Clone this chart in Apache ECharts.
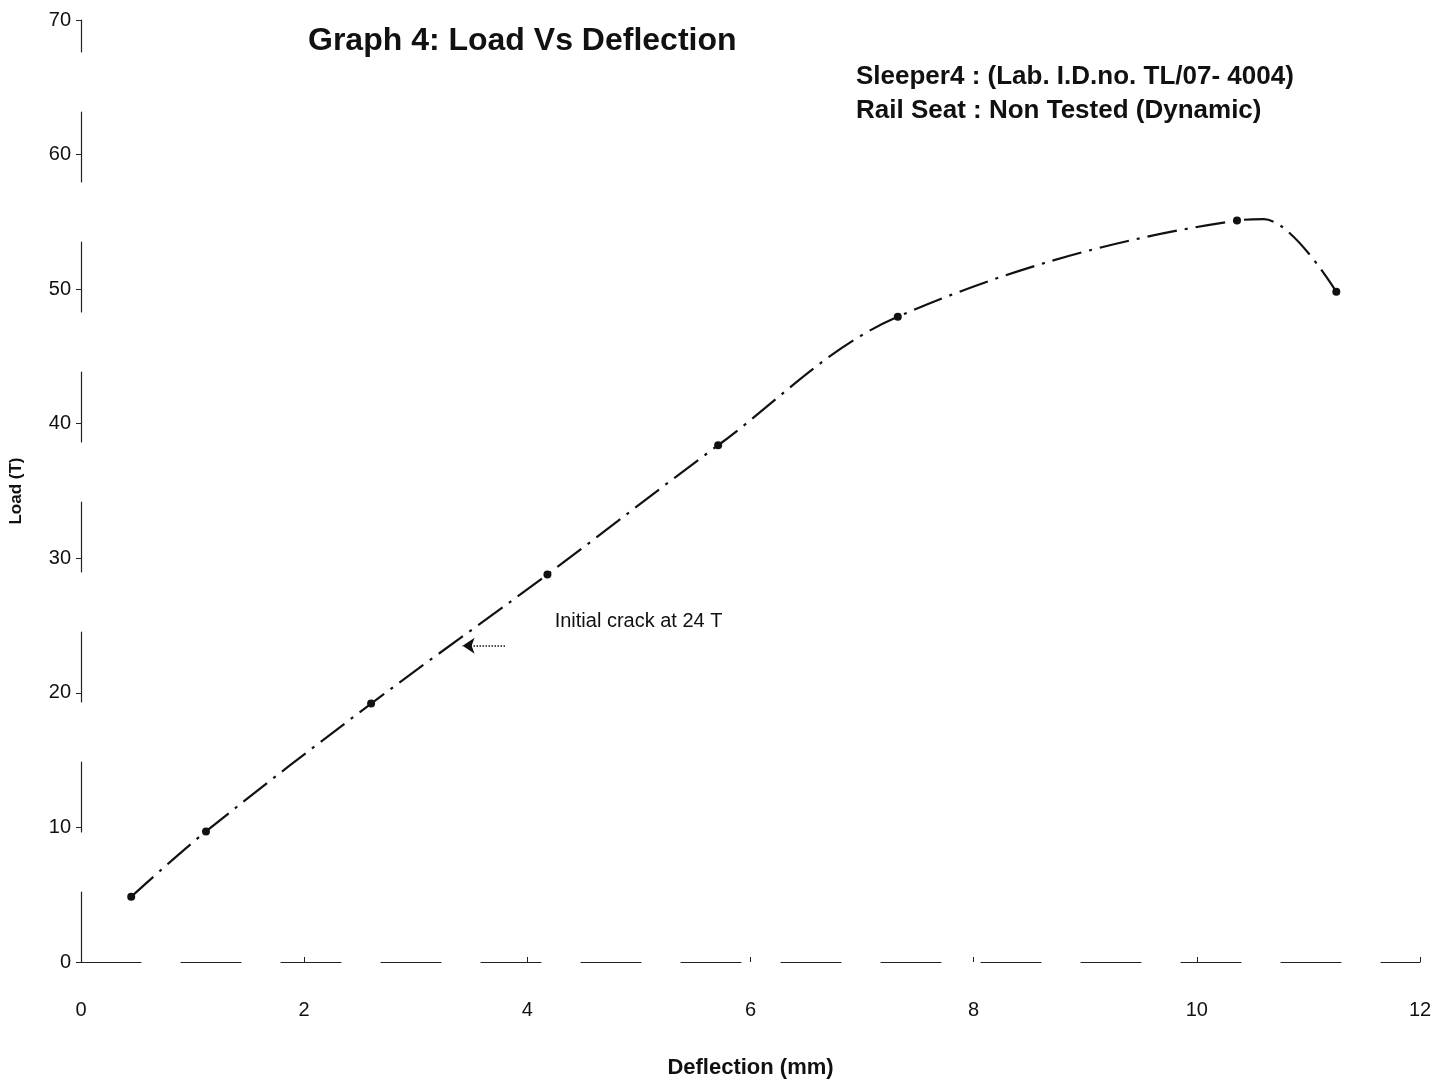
<!DOCTYPE html>
<html><head><meta charset="utf-8">
<script src="https://cdn.jsdelivr.net/npm/echarts@6/dist/echarts.min.js"></script>
<style>html,body{margin:0;padding:0;background:#fff}#c{width:1447px;height:1085px}</style>
</head><body><div id="c"></div>
<script>
const deflection = [0.45, 1.12, 2.6, 4.18, 5.71, 7.32, 10.36, 10.6, 11.25];
const load = [4.85, 9.7, 19.2, 28.8, 38.4, 47.95, 55.1, 55.2, 49.8];
const markedIdx = [0, 1, 2, 3, 4, 5, 6, 8];
const xTicks = [0, 2, 4, 6, 8, 10, 12];
const yTicks = [0, 10, 20, 30, 40, 50, 60, 70];
const crackLoad = 23.5;
const crackArrow = [3.8, 3.42];
const crackText = 'Initial crack at 24 T';
const titleText = 'Graph 4: Load Vs Deflection';
const subText = 'Sleeper4 : (Lab. I.D.no. TL/07- 4004)\nRail Seat : Non Tested (Dynamic)';

const font = '"Liberation Sans", Arial, sans-serif';
const chart = echarts.init(document.getElementById('c'));
chart.setOption({
  backgroundColor: '#fff',
  animation: false,
  title: [
    {text: titleText, left: 303, top: 20, textStyle: {fontFamily: font, fontSize: 32, fontWeight: 'bold', color: '#111'}},
    {text: subText, left: 851, top: 55, textStyle: {fontFamily: font, fontSize: 26, fontWeight: 'bold', color: '#111', lineHeight: 34}}
  ],
  grid: {left: 80, right: 27, top: 20, bottom: 123, containLabel: false},
  xAxis: {
    type: 'value', min: 0, max: 12, interval: 2,
    name: 'Deflection (mm)', nameLocation: 'middle', nameGap: 95,
    nameTextStyle: {fontFamily: font, fontSize: 22, fontWeight: 'bold', color: '#111'},
    axisLine: {show: true, lineStyle: {color: '#222', width: 1.2, type: [60, 40]}},
    axisTick: {show: true, length: 5, inside: true, lineStyle: {color: '#222'}},
    axisLabel: {fontFamily: font, fontSize: 20, color: '#111', margin: 38},
    splitLine: {show: false}
  },
  yAxis: {
    type: 'value', min: 0, max: 70, interval: 10,
    name: 'Load (T)', nameLocation: 'middle', nameGap: 56, nameRotate: 90,
    nameTextStyle: {fontFamily: font, fontSize: 17, fontWeight: 'bold', color: '#111'},
    axisLine: {show: true, onZero: false, lineStyle: {color: '#222', width: 1.2, type: [70, 60]}},
    axisTick: {show: true, length: 5, lineStyle: {color: '#222'}},
    axisLabel: {fontFamily: font, fontSize: 20, color: '#111', margin: 10},
    splitLine: {show: false}
  },
  series: [{
    type: 'line',
    smooth: 0.35,
    data: deflection.map((x, i) => ({
      value: [x, load[i]],
      symbol: markedIdx.includes(i) ? 'circle' : 'none'
    })),
    symbolSize: 8,
    itemStyle: {color: '#111'},
    lineStyle: {color: '#111', width: 2.2, type: [30, 8, 3, 8]},
    markLine: {
      silent: true,
      symbol: ['none', 'arrow'],
      symbolSize: 12,
      label: {show: false},
      lineStyle: {color: '#111', width: 1.5, type: 'dotted'},
      data: [[{coord: [crackArrow[0], crackLoad]}, {coord: [crackArrow[1], crackLoad]}]]
    },
    markPoint: {
      silent: true,
      symbol: 'circle', symbolSize: 0,
      label: {show: true, formatter: crackText, fontFamily: font, fontSize: 20, color: '#111', position: 'right', offset: [0, 0]},
      data: [{coord: [4.2, 25.3]}]
    }
  }]
});
</script></body></html>
